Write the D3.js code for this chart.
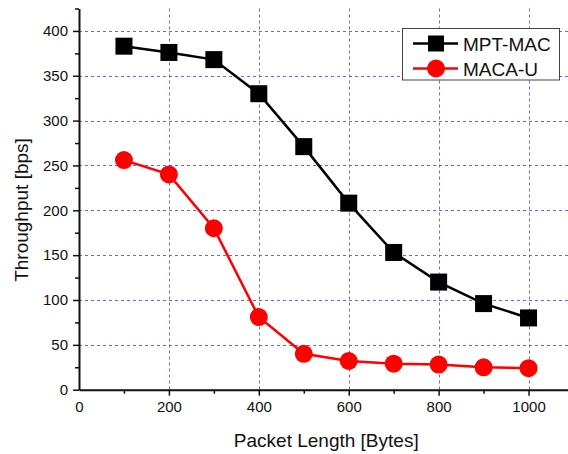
<!DOCTYPE html>
<html>
<head>
<meta charset="utf-8">
<script src="https://cdn.jsdelivr.net/npm/d3@7"></script>
<style>
  body { margin: 0; background: #fff; }
  text { font-family: Arial, "Liberation Sans", sans-serif; fill: #111; }
</style>
</head>
<body>
<svg id="chart" width="568" height="454"></svg>
<script>
// data
var packetLength = [100, 200, 300, 400, 500, 600, 700, 800, 900, 1000];
var mptMac = [383, 376, 368, 330, 271, 208, 153, 120, 96, 80];
var macaU = [256, 240, 180, 81, 40, 32, 29, 28, 25, 24];

var xMajor = [0, 200, 400, 600, 800, 1000];
var xMinor = [100, 300, 500, 700, 900];
var yMajor = [0, 50, 100, 150, 200, 250, 300, 350, 400];
var yMinor = [25, 75, 125, 175, 225, 275, 325, 375, 425];
var xGrid = [200, 400, 600, 800, 1000];
var yGrid = [50, 100, 150, 200, 250, 300, 350, 400];

var svg = d3.select("#chart");

var x = d3.scaleLinear().domain([0, 1100]).range([79, 573.5]);
var y = d3.scaleLinear().domain([0, 425]).range([389.7, 8.5]);

// grid
var grid = svg.append("g")
    .attr("stroke", "#6464ff")
    .attr("stroke-width", 1)
    .attr("stroke-dasharray", "3,3");

grid.selectAll("line.v").data(xGrid).enter().append("line")
    .attr("x1", function(d) { return Math.round(x(d)) + 0.5; })
    .attr("x2", function(d) { return Math.round(x(d)) + 0.5; })
    .attr("y1", y(425))
    .attr("y2", y(0));

grid.selectAll("line.h").data(yGrid).enter().append("line")
    .attr("x1", x(0))
    .attr("x2", 568)
    .attr("y1", function(d) { return Math.round(y(d)) + 0.5; })
    .attr("y2", function(d) { return Math.round(y(d)) + 0.5; });

// axes
var xAxis = svg.append("g")
    .attr("transform", "translate(0," + y(0) + ")")
    .call(d3.axisBottom(x).tickValues(xMajor).tickSize(6).tickSizeOuter(0).tickPadding(6).tickFormat(d3.format("d")));
xAxis.selectAll(".tick").filter(function(d) { return d === 0; }).select("line").remove();

svg.append("g")
    .attr("transform", "translate(0," + y(0) + ")")
    .call(d3.axisBottom(x).tickValues(xMinor).tickSize(4).tickSizeOuter(0).tickFormat(""))
    .select(".domain").remove();

var yAxis = svg.append("g")
    .attr("transform", "translate(" + x(0) + ",0)")
    .call(d3.axisLeft(y).tickValues(yMajor).tickSize(6).tickSizeOuter(0).tickPadding(5));

svg.append("g")
    .attr("transform", "translate(" + x(0) + ",0)")
    .call(d3.axisLeft(y).tickValues(yMinor).tickSize(4).tickSizeOuter(0).tickFormat(""))
    .select(".domain").remove();

svg.selectAll(".domain").attr("stroke", "#111").attr("stroke-width", 2);
svg.selectAll(".tick line").attr("stroke", "#111").attr("stroke-width", 1.5);
svg.selectAll(".tick text").style("font-size", "15px").attr("fill", "#111");

// axis titles
svg.append("text")
    .attr("x", (x(0) + x(1100)) / 2)
    .attr("y", 447)
    .attr("text-anchor", "middle")
    .style("font-size", "19px")
    .text("Packet Length [Bytes]");

svg.append("text")
    .attr("transform", "translate(28,210) rotate(-90)")
    .attr("text-anchor", "middle")
    .style("font-size", "19px")
    .text("Throughput [bps]");

// series
var line = d3.line()
    .x(function(d) { return x(d[0]); })
    .y(function(d) { return y(d[1]); });

var black = d3.zip(packetLength, mptMac);
var red = d3.zip(packetLength, macaU);

svg.append("path")
    .datum(black)
    .attr("fill", "none")
    .attr("stroke", "#000")
    .attr("stroke-width", 2.5)
    .attr("d", line);

svg.append("path")
    .datum(red)
    .attr("fill", "none")
    .attr("stroke", "#ff0000")
    .attr("stroke-width", 2.5)
    .attr("d", line);

var sq = 17;
svg.selectAll("rect.mpt").data(black).enter().append("rect")
    .attr("x", function(d) { return x(d[0]) - sq / 2; })
    .attr("y", function(d) { return y(d[1]) - sq / 2; })
    .attr("width", sq)
    .attr("height", sq)
    .attr("fill", "#000");

svg.selectAll("circle.maca").data(red).enter().append("circle")
    .attr("cx", function(d) { return x(d[0]); })
    .attr("cy", function(d) { return y(d[1]); })
    .attr("r", 9)
    .attr("fill", "#ff0000");

// legend
var legend = svg.append("g");
legend.append("rect")
    .attr("x", 402.5).attr("y", 28.5)
    .attr("width", 157).attr("height", 51.5)
    .attr("fill", "#fff")
    .attr("stroke", "#444")
    .attr("stroke-width", 1);

legend.append("line")
    .attr("x1", 413).attr("x2", 458).attr("y1", 43.5).attr("y2", 43.5)
    .attr("stroke", "#000").attr("stroke-width", 2.5);
legend.append("rect")
    .attr("x", 436 - 8).attr("y", 43.5 - 8).attr("width", 16).attr("height", 16)
    .attr("fill", "#000");
legend.append("text")
    .attr("x", 463).attr("y", 50.5)
    .style("font-size", "19px")
    .text("MPT-MAC");

legend.append("line")
    .attr("x1", 413).attr("x2", 458).attr("y1", 68.5).attr("y2", 68.5)
    .attr("stroke", "#ff0000").attr("stroke-width", 2.5);
legend.append("circle")
    .attr("cx", 436).attr("cy", 68.5).attr("r", 9)
    .attr("fill", "#ff0000");
legend.append("text")
    .attr("x", 463).attr("y", 75.5)
    .style("font-size", "19px")
    .text("MACA-U");
</script>
</body>
</html>
